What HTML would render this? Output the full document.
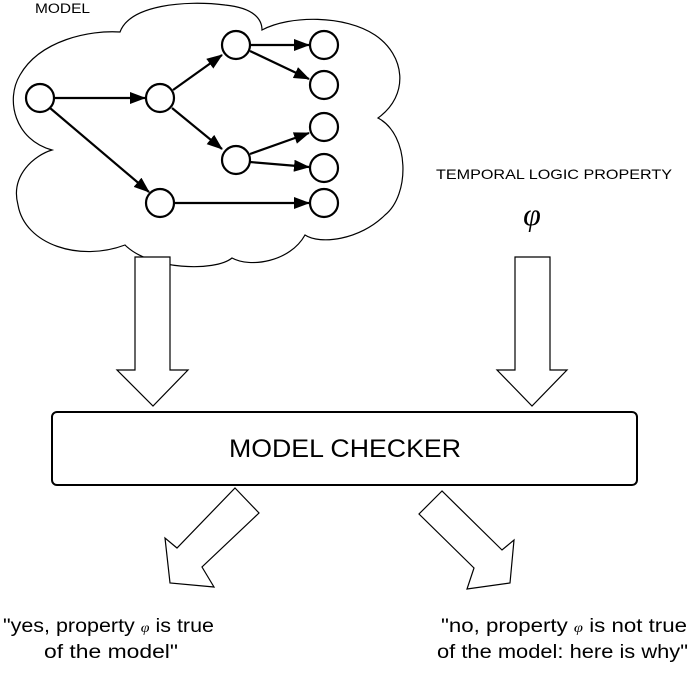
<!DOCTYPE html>
<html><head><meta charset="utf-8"><style>html,body{margin:0;padding:0;background:#fff}svg{display:block}</style></head><body>
<svg width="691" height="677" viewBox="0 0 691 677" xmlns="http://www.w3.org/2000/svg" font-family="Liberation Sans, Arial, sans-serif">
<defs><marker id="ah" markerWidth="16" markerHeight="12" refX="15" refY="6" orient="auto" markerUnits="userSpaceOnUse"><path d="M0,0 L16,6 L0,12 Z" fill="#000"/></marker></defs>
<path d="M120,32 C130,5 185,0 225,5 C255,8 262,20 262,30 C290,15 345,15 375,35 C405,55 410,95 378,118 C410,135 410,195 385,215 C360,240 320,245 305,235 C290,262 250,268 232,258 C215,272 150,270 125,245 C80,262 25,245 18,205 C10,175 35,155 52,150 C15,140 5,100 20,75 C40,40 90,30 120,32 Z" fill="#fff" stroke="#000" stroke-width="1.2"/>
<g stroke="#000" stroke-width="2.2" fill="none" marker-end="url(#ah)">
<line x1="54" y1="98" x2="145" y2="98"/>
<line x1="50" y1="108" x2="149" y2="192"/>
<line x1="173" y1="90" x2="222" y2="55"/>
<line x1="172" y1="108" x2="222" y2="149"/>
<line x1="250" y1="45" x2="309" y2="45"/>
<line x1="250" y1="51" x2="309" y2="79"/>
<line x1="250" y1="154" x2="309" y2="133"/>
<line x1="250" y1="162" x2="309" y2="167"/>
<line x1="174" y1="203" x2="309" y2="203"/>
</g>
<g stroke="#000" stroke-width="2.2" fill="#fff">
<circle cx="40" cy="98" r="14"/><circle cx="160" cy="98" r="14"/><circle cx="236" cy="45" r="14"/>
<circle cx="324" cy="45" r="14"/><circle cx="324" cy="85" r="14"/><circle cx="324" cy="127" r="14"/>
<circle cx="324" cy="168" r="14"/><circle cx="236" cy="160" r="14"/><circle cx="160" cy="203" r="14"/><circle cx="324" cy="203" r="14"/>
</g>
<text x="35" y="13" font-size="13.5" textLength="55" lengthAdjust="spacingAndGlyphs">MODEL</text>
<text x="436" y="179" font-size="14" textLength="236" lengthAdjust="spacingAndGlyphs">TEMPORAL LOGIC PROPERTY</text>
<text x="532" y="225" font-size="32" font-family="Liberation Serif, serif" font-style="italic" text-anchor="middle">φ</text>
<g stroke="#000" stroke-width="1.2" fill="#fff">
<path d="M135,257 H170 V370 H188 L153,406 L117,370 H135 Z"/>
<path d="M515,257 H550 V370 H567 L532,406 L497,370 H515 Z"/>
<rect x="52" y="412" width="585" height="73" rx="5" stroke-width="2"/>
<path d="M235,488 L259,513 L202,567 L214,587 L170,583 L165,538 L177,548 Z"/>
<path d="M442,491 L419,514 L474,568 L467,589 L510,583 L514,540 L502,550 Z"/>
</g>
<text x="345" y="457" font-size="25" text-anchor="middle" textLength="232" lengthAdjust="spacingAndGlyphs">MODEL CHECKER</text>
<g font-size="19">
<text x="3" y="632" textLength="211" lengthAdjust="spacingAndGlyphs">"yes, property <tspan font-size="14" font-family="Liberation Serif, serif" font-style="italic">φ</tspan> is true</text>
<text x="44" y="658" textLength="134" lengthAdjust="spacingAndGlyphs">of the model"</text>
<text x="441" y="632" textLength="246" lengthAdjust="spacingAndGlyphs">"no, property <tspan font-size="14" font-family="Liberation Serif, serif" font-style="italic">φ</tspan> is not true</text>
<text x="437" y="658" textLength="251" lengthAdjust="spacingAndGlyphs">of the model: here is why"</text>
</g>
</svg>
</body></html>
